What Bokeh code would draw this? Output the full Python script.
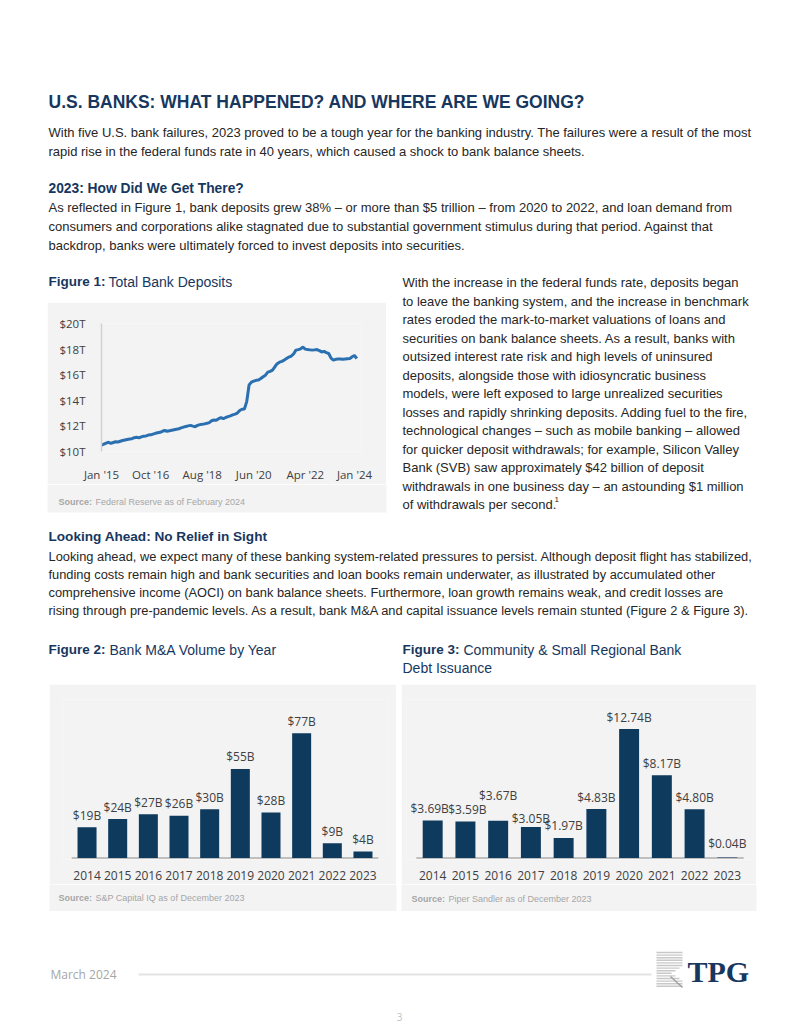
from bokeh.plotting import figure
from bokeh.models import Range1d, Label, LabelSet, FixedTicker, ColumnDataSource
from bokeh.layouts import column, row
from bokeh.embed import file_html
from bokeh.resources import INLINE
from bokeh.core.properties import value

# ---------------- data ----------------
deposit_start_year = 2015  # monthly series starting Jan 2015 (USD trillions)
deposits_trn = [
    10.50, 10.58, 10.66, 10.72, 10.64, 10.70, 10.76, 10.74, 10.80, 10.86, 10.90, 10.94,
    10.98, 11.00, 11.08, 11.12, 11.06, 11.14, 11.20, 11.22, 11.28, 11.30, 11.36, 11.42,
    11.46, 11.50, 11.58, 11.64, 11.58, 11.62, 11.66, 11.70, 11.74, 11.78, 11.84, 11.90,
    11.96, 12.00, 12.04, 11.98, 11.94, 12.04, 12.10, 12.12, 12.16, 12.20, 12.26, 12.40,
    12.46, 12.44, 12.56, 12.64, 12.56, 12.66, 12.72, 12.78, 12.86, 12.92, 13.00, 13.20,
    13.30, 13.32, 13.90, 15.20, 15.42, 15.50, 15.56, 15.58, 15.70, 15.84, 15.96, 16.20,
    16.26, 16.36, 16.62, 16.86, 16.98, 17.04, 17.14, 17.26, 17.38, 17.46, 17.62, 17.92,
    17.96, 18.02, 18.16, 18.00, 17.96, 17.94, 17.92, 17.94, 17.96, 17.88, 17.78, 17.82,
    17.72, 17.66, 17.30, 17.14, 17.20, 17.22, 17.22, 17.20, 17.22, 17.24, 17.26, 17.40,
    17.50, 17.26,
]
fig1_tick_months = [0, 21, 43, 65, 87, 108]
fig1_tick_labels = ["Jan '15", "Oct '16", "Aug '18", "Jun '20", "Apr '22", "Jan '24"]
fig1_y_ticks = [10, 12, 14, 16, 18, 20]
fig1_y_labels = ["$10T", "$12T", "$14T", "$16T", "$18T", "$20T"]

years = ["2014", "2015", "2016", "2017", "2018", "2019", "2020", "2021", "2022", "2023"]
ma_volume_bn = [19, 24, 27, 26, 30, 55, 28, 77, 9, 4]
debt_issuance_bn = [3.69, 3.59, 3.67, 3.05, 1.97, 4.83, 12.74, 8.17, 4.80, 0.04]

# ---------------- styles ----------------
BODY = "'Liberation Sans', Arial, sans-serif"
CHART = "Open Sans"
NAVY = "#17375e"
TEXT = "#262626"
GRAY_BG = "#f3f3f4"
SRC = "#a6a6a6"
BAR = "#0e3a5e"
LINE = "#2a6fb0"
fig3_label_dy = [0, 0, 13, -3, 0, 0, 0, 0, 0, 2]
fig3_label_dx = [-3, 2, 0, 0, 0, 0, 0, 0, 0, 0]
O = 1  # page origin of the layout


def blank(x0, y0, w, h, fill="white"):
    p = figure(width=w, height=h, x_range=Range1d(x0, x0 + w), y_range=Range1d(y0 + h, y0),
               toolbar_location=None, output_backend="svg", min_border=0,
               x_axis_location=None, y_axis_location=None)
    p.grid.visible = False
    p.outline_line_color = None
    p.background_fill_color = fill
    p.border_fill_color = fill
    return p


def put(p, x, y, text, size=13, color=TEXT, bold=False, font=BODY, align="left"):
    p.add_layout(Label(x=x, y=y, text=text, text_font=font, text_font_size=f"{size}px",
                       text_color=color, text_font_style="bold" if bold else "normal",
                       text_baseline="middle", text_align=align))


def gray_box(p, x0, y0, x1, y1):
    p.quad(left=[x0], right=[x1], top=[y0], bottom=[y1], fill_color=GRAY_BG, line_color=None)


# ---------------- header ----------------
hdr = blank(O, O, 792 - O, 268 - O)
put(hdr, 49, 102, "U.S. BANKS: WHAT HAPPENED? AND WHERE ARE WE GOING?", 17.5, NAVY, True)
put(hdr, 49, 133, "With five U.S. bank failures, 2023 proved to be a tough year for the banking industry.  The failures were a result of the most")
put(hdr, 49, 152, "rapid rise in the federal funds rate in 40 years, which caused a shock to bank balance sheets.")
put(hdr, 49, 189, "2023:  How Did We Get There?", 13.8, NAVY, True)
put(hdr, 49, 208, "As reflected in Figure 1, bank deposits grew 38% \u2013 or more than $5 trillion \u2013 from 2020 to 2022, and loan demand from")
put(hdr, 49, 227, "consumers and corporations alike stagnated due to substantial government stimulus during that period. Against that")
put(hdr, 49, 246, "backdrop, banks were ultimately forced to invest deposits into securities.")

# ---------------- figure 1 ----------------
f1t = blank(O, 268, 400 - O, 35)
put(f1t, 49, 282, "Figure 1:", 13.5, NAVY, True)
put(f1t, 109, 282, "Total Bank Deposits", 14, NAVY)

months = list(range(len(deposits_trn)))
p1 = figure(width=339, height=182, x_range=Range1d(0, 111), y_range=Range1d(10, 20),
            toolbar_location=None, output_backend="svg",
            min_border_left=54, min_border_right=25, min_border_top=21, min_border_bottom=30)
p1.line(months, deposits_trn, line_width=3, line_color=LINE)
p1.grid.visible = False
p1.outline_line_color = None
p1.background_fill_color = GRAY_BG
p1.border_fill_color = GRAY_BG
p1.yaxis.ticker = FixedTicker(ticks=fig1_y_ticks)
p1.yaxis.major_label_overrides = dict(zip(fig1_y_ticks, fig1_y_labels))
p1.yaxis.axis_line_color = "#d0d0d0"
p1.yaxis.axis_line_width = 1.5
p1.xaxis.ticker = FixedTicker(ticks=fig1_tick_months)
p1.xaxis.major_label_overrides = dict(zip(fig1_tick_months, fig1_tick_labels))
p1.xaxis.axis_line_color = None
for ax in (p1.xaxis[0], p1.yaxis[0]):
    ax.major_tick_line_color = None
    ax.minor_tick_line_color = None
    ax.major_label_text_font = CHART
    ax.major_label_text_font_size = "11.5px"
    ax.major_label_text_color = "#404040"
p1.yaxis.major_label_standoff = 10
p1.xaxis.major_label_standoff = 9

s1 = blank(O, 485, 400 - O, 37)
gray_box(s1, 48, 485, 387, 513)
put(s1, 59, 502, "Source:", 9, SRC, True)
put(s1, 96, 502, "Federal Reserve as of February 2024", 9, SRC)

left_col = column(
    f1t,
    row(blank(O, 303, 48 - O, 182), p1, blank(387, 303, 13, 182)),
    s1,
)

rt = blank(400, 268, 392, 254)
right_lines = [
    "With the increase in the federal funds rate, deposits began",
    "to leave the banking system, and the increase in benchmark",
    "rates eroded the mark-to-market valuations of loans and",
    "securities on bank balance sheets. As a result, banks with",
    "outsized interest rate risk and high levels of uninsured",
    "deposits, alongside those with idiosyncratic business",
    "models, were left exposed to large unrealized securities",
    "losses and rapidly shrinking deposits. Adding fuel to the fire,",
    "technological changes \u2013 such as mobile banking \u2013 allowed",
    "for quicker deposit withdrawals; for example, Silicon Valley",
    "Bank (SVB) saw approximately $42 billion of deposit",
    "withdrawals in one business day \u2013 an astounding $1 million",
    "of withdrawals per second.",
]
for i, t in enumerate(right_lines):
    put(rt, 403, 283 + i * 18.5, t, 13)
put(rt, 555, 500, "1", 8)

# ---------------- middle text ----------------
mid = blank(O, 522, 792 - O, 163)
put(mid, 49, 537, "Looking Ahead: No Relief in Sight", 13.6, NAVY, True)
mid_lines = [
    "Looking ahead, we expect many of these banking system-related pressures to persist. Although deposit flight has stabilized,",
    "funding costs remain high and bank securities and loan books remain underwater, as illustrated by accumulated other",
    "comprehensive income (AOCI) on bank balance sheets. Furthermore, loan growth remains weak, and credit losses are",
    "rising through pre-pandemic levels. As a result, bank M&A and capital issuance levels remain stunted (Figure 2 & Figure 3).",
]
for i, t in enumerate(mid_lines):
    put(mid, 49, 557 + i * 18, t, 12.85)
put(mid, 49, 650, "Figure 2:", 13.5, NAVY, True)
put(mid, 110, 650, "Bank M&A Volume by Year", 14, NAVY)
put(mid, 403, 650, "Figure 3:", 13.5, NAVY, True)
put(mid, 464, 650, "Community & Small Regional Bank", 14, NAVY)
put(mid, 403, 668, "Debt Issuance", 14, NAVY)


# ---------------- bar charts ----------------
def bar_chart(vals, labels, w, top, bl, br, bw, dx=None, dy=None):
    n = len(vals)
    xs = list(range(n))
    p = figure(width=w, height=200, x_range=Range1d(-0.8, n - 0.2), y_range=Range1d(-top * 0.01, top),
               toolbar_location=None, output_backend="svg", y_axis_location=None,
               min_border_left=bl, min_border_right=br, min_border_top=15, min_border_bottom=25)
    src = ColumnDataSource(dict(x=xs, y=vals, t=labels,
                                dx=dx or [0] * n, dy=[12 + d for d in (dy or [0] * n)]))
    p.segment(x0=[-0.5], y0=[0], x1=[n - 0.5], y1=[0], line_color="#bfbfbf", line_width=2)
    p.vbar(x="x", top="y", width=bw, source=src, fill_color=BAR, line_color=None)
    p.add_layout(LabelSet(x="x", y="y", text="t", source=src, x_offset="dx", y_offset="dy",
                          text_align="center", text_baseline="middle",
                          text_font=value(CHART), text_font_size="12px", text_color="#404040"))
    p.grid.visible = False
    p.outline_line_color = None
    p.background_fill_color = GRAY_BG
    p.border_fill_color = GRAY_BG
    ax = p.xaxis[0]
    ax.ticker = FixedTicker(ticks=xs)
    ax.major_label_overrides = dict(zip(xs, years))
    ax.axis_line_color = None
    ax.major_tick_line_color = None
    ax.minor_tick_line_color = None
    ax.major_label_text_font = CHART
    ax.major_label_text_font_size = "12px"
    ax.major_label_text_color = "#404040"
    ax.major_label_standoff = 5
    return p


p2 = bar_chart(ma_volume_bn, [f"${v}B" for v in ma_volume_bn], 347, 97.9, 13, 9, 0.62)
p3 = bar_chart(debt_issuance_bn, [f"${v:.2f}B" for v in debt_issuance_bn], 355, 15.66, 5, 3, 0.61,
               fig3_label_dx, fig3_label_dy)

src_row = blank(O, 885, 792 - O, 27)
gray_box(src_row, 50, 885, 397, 912)
gray_box(src_row, 402, 885, 757, 912)
put(src_row, 59, 898, "Source:", 9, SRC, True)
put(src_row, 96, 898, "S&P Capital IQ as of December 2023", 9, SRC)
put(src_row, 412, 899, "Source:", 9, SRC, True)
put(src_row, 449, 899, "Piper Sandler as of December 2023", 9, SRC)

bottom = column(
    row(blank(O, 685, 50 - O, 200), p2, blank(397, 685, 5, 200), p3, blank(757, 685, 35, 200)),
    src_row,
)

# ---------------- footer ----------------
ft = blank(O, 912, 792 - O, 115)
put(ft, 51, 975, "March 2024", 12, SRC, font="Open Sans")
ft.segment(x0=[139], y0=[975], x1=[652], y1=[975], line_color="#e3e3e3", line_width=2)
stripe_y = [953 + i * 2.6 for i in range(14)]
stripe_x1 = [683, 683, 683, 683, 683, 683, 680, 676, 672, 676, 680, 683, 683, 683]
ft.segment(x0=[657] * 14, y0=stripe_y, x1=stripe_x1, y1=stripe_y, line_color="#c8c8c8", line_width=1.4)
ft.segment(x0=[671], y0=[977], x1=[683], y1=[988], line_color="#9a9a9a", line_width=1.2)
put(ft, 688, 972, "TPG", 30, NAVY, True, font="'Liberation Serif', serif")
put(ft, 400, 1017, "3", 10, "#bfbfbf", font="Open Sans", align="center")

page = column(hdr, row(left_col, rt), mid, bottom, ft)
open("out.html", "w").write(file_html(page, INLINE))
